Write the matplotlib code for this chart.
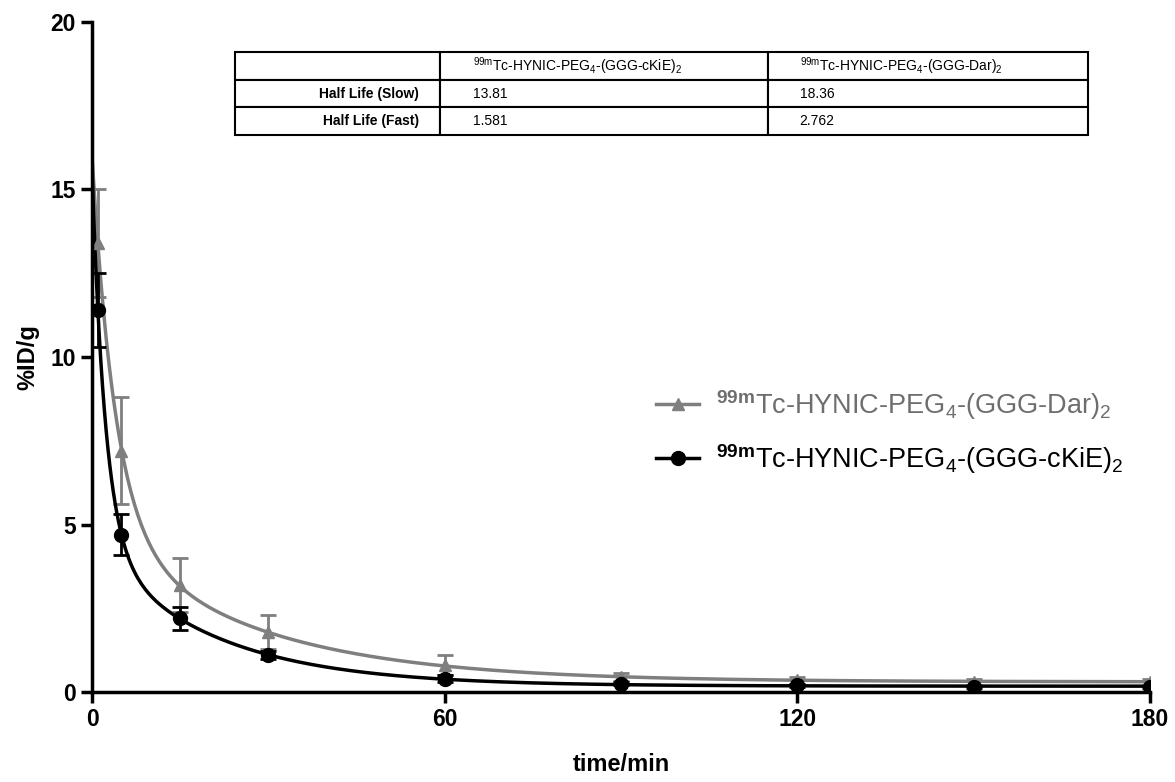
import numpy as np
import matplotlib.pyplot as plt

plt.rcParams['font.family'] = ['Liberation Sans', 'DejaVu Sans']
plt.rcParams['mathtext.fontset'] = 'custom'
plt.rcParams['mathtext.rm'] = 'Liberation Sans'
plt.rcParams['mathtext.bf'] = 'Liberation Sans:bold'
plt.rcParams['mathtext.it'] = 'Liberation Sans'

# Messzeitpunkte (min)
time = [1, 5, 15, 30, 60, 90, 120, 150, 180]

# %ID/g  Mittelwerte und Fehler
dar_mean = [13.4, 7.2, 3.2, 1.8, 0.8, 0.45, 0.35, 0.3, 0.3]
dar_err = [1.6, 1.6, 0.8, 0.5, 0.3, 0.12, 0.1, 0.08, 0.08]
ckie_mean = [11.4, 4.7, 2.2, 1.1, 0.4, 0.25, 0.2, 0.15, 0.15]
ckie_err = [1.1, 0.6, 0.35, 0.12, 0.1, 0.05, 0.05, 0.04, 0.04]

# Halbwertszeiten aus der Tabelle
halflife_ckie = [13.81, 1.581]
halflife_dar = [18.36, 2.762]

label_dar = r'$^{\mathbf{99m}}$Tc-HYNIC-PEG$_4$-(GGG-Dar)$_2$'
label_ckie = r'$^{\mathbf{99m}}$Tc-HYNIC-PEG$_4$-(GGG-cKiE)$_2$'


def two_phase_fit(t, y, hl):
    # lineare Anpassung der Amplituden bei festen Halbwertszeiten
    t = np.asarray(t, float)
    ks, kf = np.log(2) / hl[0], np.log(2) / hl[1]
    A = np.column_stack([np.exp(-kf * t), np.exp(-ks * t), np.ones_like(t)])
    c, *_ = np.linalg.lstsq(A, np.asarray(y, float), rcond=None)
    tt = np.linspace(0, 180, 600)
    return tt, c[0] * np.exp(-kf * tt) + c[1] * np.exp(-ks * tt) + c[2]


fig = plt.figure(figsize=(11.75, 7.82), dpi=100)
ax = fig.add_axes([0.0783, 0.115, 0.9004, 0.857])

grey = '#7f7f7f'
tt, yd = two_phase_fit(time, dar_mean, halflife_dar)
ax.plot(tt, yd, color=grey, lw=2.5)
ax.errorbar(time, dar_mean, yerr=dar_err, fmt='^', color=grey, ms=9,
            capsize=6, elinewidth=2, capthick=2)
tt, yc = two_phase_fit(time, ckie_mean, halflife_ckie)
ax.plot(tt, yc, color='black', lw=2.5)
ax.errorbar(time, ckie_mean, yerr=ckie_err, fmt='o', color='black', ms=10,
            capsize=6, elinewidth=2, capthick=2)

# Legende
h1, = ax.plot([], [], '-^', color=grey, lw=2.5, ms=9)
h2, = ax.plot([], [], '-o', color='black', lw=2.5, ms=10)
leg = ax.legend([h1, h2], [label_dar, label_ckie], loc='upper left',
                bbox_to_anchor=(0.51, 0.49), frameon=False, fontsize=19.5,
                handlelength=1.6, labelspacing=0.75, handletextpad=0.6)
leg.get_texts()[0].set_color('#6e6e6e')

ax.set_xlim(0, 180)
ax.set_ylim(0, 20)
ax.set_xticks([0, 60, 120, 180])
ax.set_yticks([0, 5, 10, 15, 20])
for s in ['top', 'right']:
    ax.spines[s].set_visible(False)
for s in ['left', 'bottom']:
    ax.spines[s].set_linewidth(2.5)
ax.tick_params(width=2.5, length=8, labelsize=16.5)
for lab in ax.get_xticklabels() + ax.get_yticklabels():
    lab.set_fontweight('bold')
ax.set_xlabel('time/min', fontsize=17, fontweight='bold', labelpad=16)
ax.set_ylabel('%ID/g', fontsize=17, fontweight='bold', labelpad=8)

# Tabelle mit Halbwertszeiten
cells = [['', r'$^{\mathrm{99m}}$Tc-HYNIC-PEG$_4$-(GGG-cKiE)$_2$', r'$^{\mathrm{99m}}$Tc-HYNIC-PEG$_4$-(GGG-Dar)$_2$'],
         ['Half Life (Slow)', str(halflife_ckie[0]), str(halflife_dar[0])],
         ['Half Life (Fast)', str(halflife_ckie[1]), str(halflife_dar[1])]]
tab = ax.table(cellText=cells, bbox=[0.135, 0.831, 0.806, 0.124],
               colWidths=[205, 328, 320], cellLoc='left')
tab.auto_set_font_size(False)
tab.set_fontsize(10)
for (r, c), cell in tab.get_celld().items():
    cell.set_linewidth(1.5)
    if c == 0:
        cell._loc = 'right'
        cell.get_text().set_ha('right')
        cell.get_text().set_fontweight('bold')

fig.savefig('out.png', dpi=100)
